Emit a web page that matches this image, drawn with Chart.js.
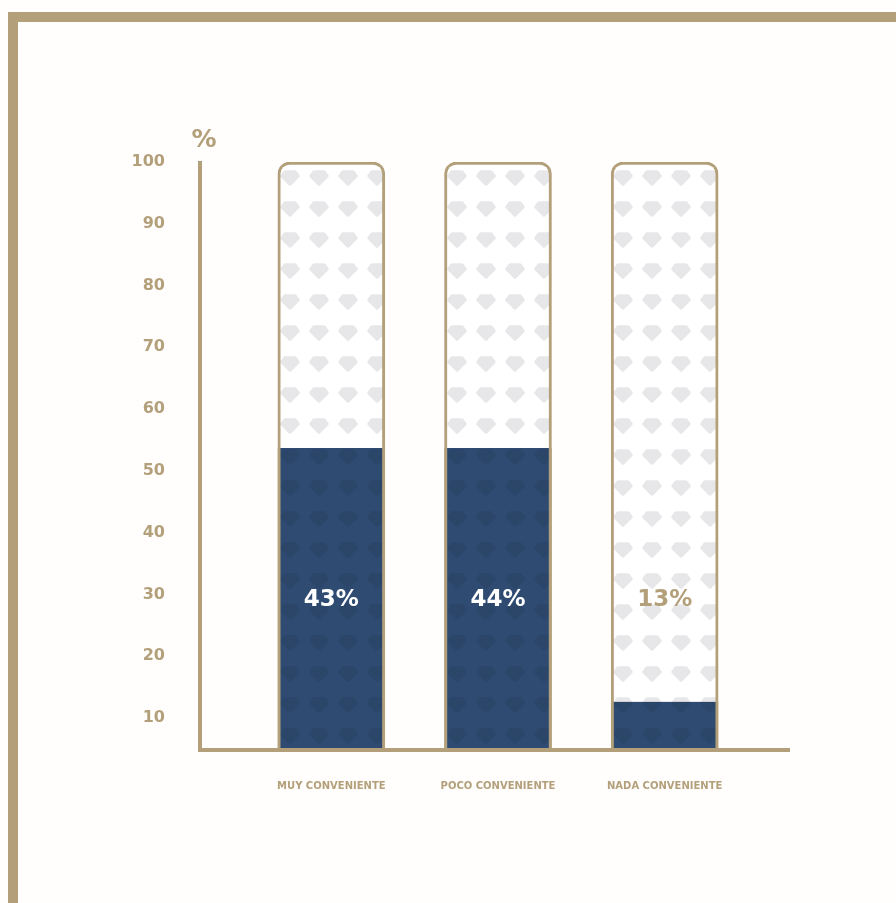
<!DOCTYPE html>
<html>
<head>
<meta charset="utf-8">
<script src="https://cdn.jsdelivr.net/npm/chart.js@4.4.1/dist/chart.umd.min.js"></script>
<style>
    html, body { margin: 0; padding: 0; background: #fffefc; }
    #frame {
        position: absolute; left: 8px; top: 12px; width: 878px; height: 881px;
        border-left: 10px solid #b3a07b; border-top: 10px solid #b3a07b;
        border-bottom: 1px solid #f3e6d6;
    }
    #chart { position: absolute; left: 0; top: 0; }
</style>
</head>
<body>
<div id="frame"></div>
<canvas id="chart" width="896" height="903"></canvas>
<script>
// ── Data ───────────────────────────────────────────────────────────────────

const categories  = ['MUY CONVENIENTE', 'POCO CONVENIENTE', 'NADA CONVENIENTE'];
const fillValues  = [53.7, 53.7, 12.6];   // navy fill height
const capValues   = [100, 100, 100];      // outlined container height
const valueLabels = ['43%', '44%', '13%'];
const yTicks      = [10, 20, 30, 40, 50, 60, 70, 80, 90, 100];

const TAN  = '#b3a07b';
const NAVY = '#2f4b71';

// pattern shift per bar so every column starts with a clipped gem
const PATTERN_SHIFT = [272, 439, 605];

// ── Gem pattern fill ───────────────────────────────────────────────────────

function gemPattern(bg, gem, shiftX) {
    const c = document.createElement('canvas');
    c.width = 29; c.height = 31;
    const g = c.getContext('2d');
    g.fillStyle = bg;
    g.fillRect(0, 0, 29, 31);
    g.fillStyle = gem;
    g.strokeStyle = gem;
    g.lineWidth = 3.5;
    g.lineJoin = 'round';
    [23, 23 - 31].forEach(cy => {
        g.beginPath();
        g.moveTo(13, cy - 6);
        g.lineTo(23, cy - 6);
        g.lineTo(26, cy - 2);
        g.lineTo(18, cy + 6);
        g.lineTo(10, cy - 2);
        g.closePath();
        g.fill();
        g.stroke();
    });
    const p = g.createPattern(c, 'repeat');
    p.setTransform(new DOMMatrix().translate(shiftX, 0));
    return p;
}

// ── Decorations: axis lines, % sign, value labels ──────────────────────────

const decor = {
    id: 'decor',
    afterDatasetsDraw(chart) {
        const { ctx, chartArea, scales: { x, y } } = chart;
        ctx.save();
        ctx.strokeStyle = TAN;
        ctx.lineWidth = 4;
        ctx.beginPath();
        ctx.moveTo(200, y.getPixelForValue(100) - 1);
        ctx.lineTo(200, chartArea.bottom + 2);
        ctx.moveTo(198, chartArea.bottom);
        ctx.lineTo(790, chartArea.bottom);
        ctx.stroke();

        ctx.fillStyle = TAN;
        ctx.font = 'bold 25px "DejaVu Sans"';
        ctx.textAlign = 'center';
        ctx.textBaseline = 'middle';
        ctx.fillText('%', 204, 140);

        ctx.font = 'bold 23px "DejaVu Sans"';
        const meta = chart.getDatasetMeta(0);
        meta.data.forEach((bar, i) => {
            ctx.fillStyle = fillValues[i] > 29 ? '#ffffff' : TAN;
            ctx.fillText(valueLabels[i], bar.x, y.getPixelForValue(29));
        });
        ctx.restore();
    },
};

// ── Chart ──────────────────────────────────────────────────────────────────

new Chart(document.getElementById('chart'), {
    type: 'bar',
    data: {
        labels: categories,
        datasets: [
            {
                data: fillValues,
                backgroundColor: PATTERN_SHIFT.map(s => gemPattern(NAVY, '#2c4669', s)),
                borderColor: TAN,
                borderWidth: { left: 3, right: 3, top: 0, bottom: 0 },
                borderSkipped: false,
                barThickness: 107,
                grouped: false,
                order: 1,
            },
            {
                data: capValues,
                backgroundColor: PATTERN_SHIFT.map(s => gemPattern('#ffffff', '#e7e7e9', s)),
                borderColor: TAN,
                borderWidth: { left: 3, right: 3, top: 3, bottom: 0 },
                borderRadius: { topLeft: 12, topRight: 12 },
                borderSkipped: false,
                barThickness: 107,
                grouped: false,
                order: 2,
            },
        ],
    },
    options: {
        responsive: false,
        animation: false,
        devicePixelRatio: 1,
        layout: { padding: { left: 0, right: 148, top: 162, bottom: 0 } },
        plugins: { legend: { display: false }, tooltip: { enabled: false } },
        scales: {
            x: {
                offset: true,
                grid: { display: false, drawTicks: false },
                border: { display: false },
                ticks: {
                    color: TAN,
                    padding: 30,
                    maxRotation: 0,
                    font: { family: '"DejaVu Sans"', size: 10, weight: 'bold' },
                },
                afterFit: (s) => { s.height = 153; },
            },
            y: {
                min: 4.8,
                max: 100,
                grid: { display: false, drawTicks: false },
                border: { display: false },
                ticks: {
                    color: TAN,
                    padding: 83,
                    font: { family: '"DejaVu Sans"', size: 16, weight: 'bold' },
                },
                afterBuildTicks: (s) => { s.ticks = yTicks.map(v => ({ value: v })); },
                afterFit: (s) => { s.width = 248; },
            },
        },
    },
    plugins: [decor],
});
</script>
</body>
</html>
